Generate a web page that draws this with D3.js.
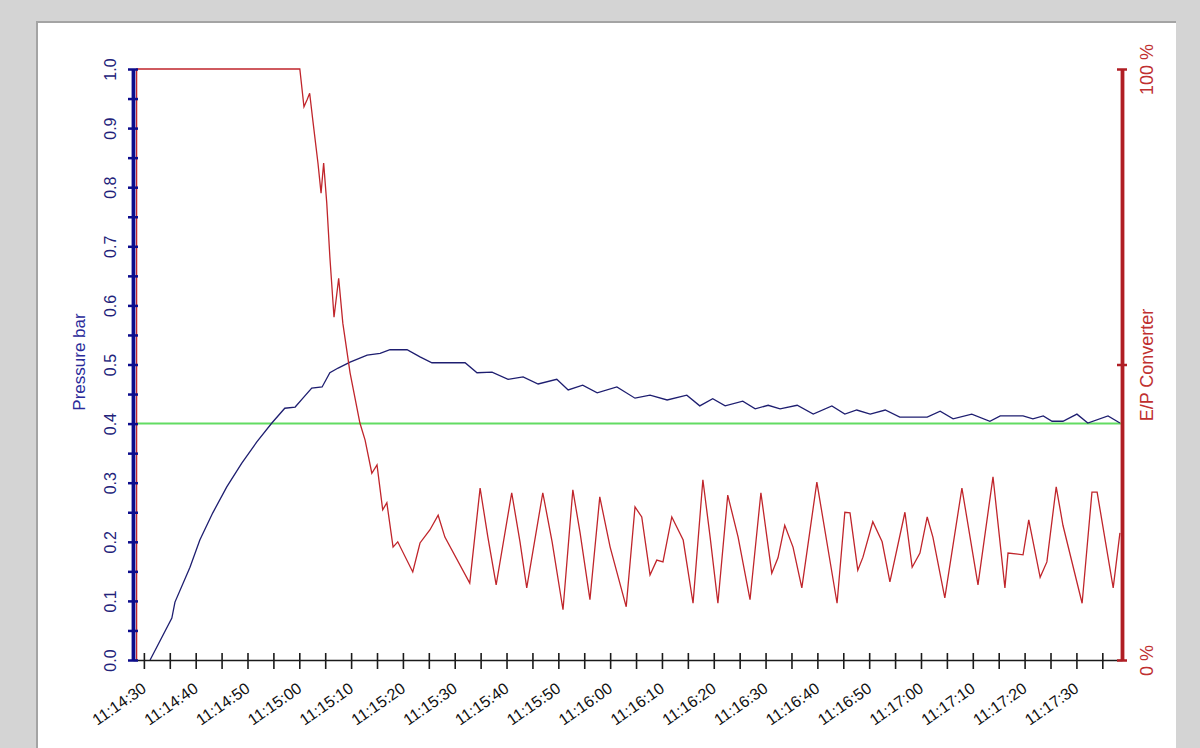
<!DOCTYPE html>
<html>
<head>
<meta charset="utf-8">
<script src="https://cdn.jsdelivr.net/npm/d3@7"></script>
<style>
  body { margin: 0; background: #d4d4d4; }
  svg { display: block; }
  text { font-family: "Liberation Sans", Arial, sans-serif; }
</style>
</head>
<body>
<svg id="chart" width="1200" height="748"></svg>
<script>
// seconds after 11:14:30
var epTime = [-1.4, -1.4, 30.1, 30.9, 31.5, 32.0, 32.6, 33.6, 34.2, 34.7, 35.3, 35.9, 36.7, 37.6, 38.4, 39.8,
  41.7, 42.7, 44.0, 45.0, 46.1, 46.9, 48.1, 49.0, 51.9, 53.3, 55.2, 56.8, 58.1, 62.9, 64.9, 66.4, 68.0,
  71.0, 72.6, 73.9, 77.0, 78.8, 80.9, 82.8, 84.2, 86.1, 88.0, 90.0, 93.1, 94.8, 96.1, 97.7, 99.0, 100.2,
  101.9, 104.1, 106.0, 107.9, 109.3, 110.8, 112.7, 114.7, 117.0, 119.1, 121.2, 122.4, 123.7, 125.3, 127.0,
  129.9, 133.8, 135.3, 136.3, 137.8, 138.8, 140.7, 142.5, 144.0, 146.9, 148.3, 149.8, 151.2, 152.3, 154.6,
  157.9, 161.0, 163.9, 166.2, 166.8, 169.7, 170.8, 173.0, 174.3, 176.1, 177.4, 181.1, 183.0, 184.0, 187.1, 188.4];
// E/P converter, percent
var epValue = [0, 100, 100, 93.6, 94.8, 95.9, 91.4, 84.1, 79.0, 84.1, 77.3, 68.2, 58.0, 64.6, 57.0, 48.6,
  40.1, 37.2, 31.6, 33.0, 25.4, 26.6, 19.1, 20.0, 14.9, 19.8, 22.0, 24.5, 20.8, 13.0, 29.1, 20.8, 12.7,
  28.3, 20.0, 12.2, 28.3, 20.0, 8.5, 28.8, 21.5, 10.2, 27.6, 19.1, 9.0, 25.9, 24.2, 14.4, 16.9, 16.6,
  24.2, 20.3, 9.6, 30.5, 20.8, 9.6, 27.9, 20.8, 10.2, 28.3, 14.7, 17.3, 22.8, 19.1, 12.2,
  30.1, 9.6, 25.0, 24.9, 15.2, 17.4, 23.4, 20.0, 13.2, 25.0, 15.7, 18.1, 24.2, 20.8, 10.5,
  29.1, 12.7, 31.0, 12.2, 18.1, 17.8, 23.7, 14.0, 16.6, 29.3, 22.8, 9.6, 28.4, 28.4, 12.2, 21.5];

var pressTime = [1.2, 5.4, 6.0, 8.9, 10.8, 13.3, 16.0, 18.9, 21.8, 24.7, 27.2, 29.2, 30.7, 32.4, 34.4, 35.9,
  37.5, 39.8, 43.1, 45.6, 47.5, 50.8, 53.3, 55.6, 62.0, 64.3, 67.2, 70.3, 73.2, 76.1, 79.7, 81.9, 84.7,
  87.5, 91.3, 94.8, 97.7, 101.0, 104.8, 107.3, 109.8, 112.2, 115.6, 118.0, 120.5, 122.8, 126.1, 129.2,
  132.8, 135.3, 137.6, 140.2, 143.1, 145.9, 151.2, 153.7, 156.2, 159.8, 163.3, 165.3, 169.7, 171.6,
  173.6, 175.3, 177.4, 180.1, 182.2, 186.1, 188.4];
// pressure, bar
var pressValue = [0, 0.071, 0.098, 0.157, 0.203, 0.249, 0.293, 0.333, 0.369, 0.401, 0.426, 0.428, 0.443,
  0.460, 0.462, 0.486, 0.494, 0.504, 0.516, 0.519, 0.525, 0.525, 0.513, 0.503, 0.503, 0.486, 0.487,
  0.475, 0.479, 0.467, 0.475, 0.457, 0.465, 0.452, 0.462, 0.443, 0.448, 0.440, 0.448, 0.430, 0.442,
  0.430, 0.438, 0.425, 0.431, 0.425, 0.431, 0.416, 0.430, 0.416, 0.423, 0.416, 0.423, 0.411, 0.411,
  0.421, 0.408, 0.416, 0.404, 0.413, 0.413, 0.408, 0.413, 0.404, 0.404, 0.416, 0.401, 0.413, 0.401];

var setpoint = 0.4;
var timeDomain = [-2.1, 188.8];
var pressTicks = d3.range(0, 21).map(function(i) { return i * 0.05; });
var epTicks = [0, 50, 100];

var t0 = new Date(2000, 0, 1, 11, 14, 30);
function toDate(s) { return new Date(t0.getTime() + s * 1000); }

var svg = d3.select("#chart");

// panel
svg.append("rect").attr("x", 37).attr("y", 22).attr("width", 1139).attr("height", 740).attr("fill", "#ffffff");
svg.append("path").attr("d", "M37,748V22H1176").attr("fill", "none").attr("stroke", "#a4a4a4").attr("stroke-width", 2);

var x = d3.scaleTime()
  .domain(timeDomain.map(toDate))
  .range([133, 1122]);

var yP = d3.scaleLinear()
  .domain([0, 1])
  .range([660, 69]);

var yE = d3.scaleLinear()
  .domain([0, 100])
  .range([660, 69]);

// setpoint
svg.append("line")
  .attr("x1", x(toDate(-1.4))).attr("x2", x.range()[1])
  .attr("y1", yP(setpoint)).attr("y2", yP(setpoint))
  .attr("stroke", "#62dc62").attr("stroke-width", 2);

var epLine = d3.line()
  .x(function(d, i) { return x(toDate(epTime[i])); })
  .y(function(d) { return yE(d); });

var pressLine = d3.line()
  .x(function(d, i) { return x(toDate(pressTime[i])); })
  .y(function(d) { return yP(d); });

svg.append("path")
  .attr("d", pressLine(pressValue))
  .attr("fill", "none").attr("stroke", "#1e1e70").attr("stroke-width", 1.3);

svg.append("path")
  .attr("d", epLine(epValue))
  .attr("fill", "none").attr("stroke", "#c0252b").attr("stroke-width", 1.3);

// x axis
var xAxis = svg.append("g")
  .attr("transform", "translate(0,660)")
  .call(d3.axisBottom(x)
    .ticks(d3.timeSecond.every(5))
    .tickSize(8)
    .tickSizeOuter(0)
    .tickFormat(function(d) { return d.getSeconds() % 10 == 0 ? d3.timeFormat("%H:%M:%S")(d) : ""; }));
xAxis.select(".domain").attr("stroke", "#1a1a1a").attr("stroke-width", 1.6);
xAxis.selectAll(".tick").filter(function(d) { return x(d) < 140 || x(d) > 1110; }).remove();
xAxis.selectAll(".tick line").attr("y1", -7).attr("y2", 9).attr("stroke", "#1a1a1a").attr("stroke-width", 1.6);
xAxis.selectAll(".tick text")
  .attr("y", 0).attr("dy", 0)
  .attr("transform", "translate(3,31) rotate(-35)")
  .attr("text-anchor", "end")
  .attr("font-size", 16)
  .attr("fill", "#111");

// left axis
var lAxis = svg.append("g")
  .attr("transform", "translate(133,0)")
  .call(d3.axisLeft(yP)
    .tickValues(pressTicks)
    .tickSize(4)
    .tickSizeOuter(0)
    .tickFormat(function(d) { return Math.round(d * 100) % 10 == 0 ? d3.format(".1f")(d) : ""; }));
lAxis.select(".domain").attr("stroke", "#0c0c8c").attr("stroke-width", 3.8);
lAxis.selectAll(".tick line").attr("x1", -5).attr("x2", 5).attr("stroke", "#0c0c8c").attr("stroke-width", 2.5);
lAxis.selectAll(".tick text")
  .attr("x", 0).attr("dy", 0)
  .attr("transform", "translate(-17,0) rotate(-90)")
  .attr("text-anchor", "middle")
  .attr("font-size", 16)
  .attr("fill", "#22227a");

svg.append("text")
  .attr("transform", "translate(85,362) rotate(-90)")
  .attr("text-anchor", "middle")
  .attr("font-size", 17)
  .attr("fill", "#2a2a9a")
  .text("Pressure bar");

// right axis
var rAxis = svg.append("g")
  .attr("transform", "translate(1122,0)")
  .call(d3.axisRight(yE)
    .tickValues(epTicks)
    .tickSize(5)
    .tickSizeOuter(0)
    .tickFormat(function(d) { return d == 50 ? "" : d + " %"; }));
rAxis.select(".domain").attr("stroke", "#b01e24").attr("stroke-width", 3.8);
rAxis.selectAll(".tick line").attr("x1", -5).attr("x2", 5).attr("stroke", "#b01e24").attr("stroke-width", 2.5);
rAxis.selectAll(".tick text")
  .attr("x", 0).attr("dy", 0)
  .attr("transform", "translate(31,0) rotate(-90)")
  .attr("text-anchor", "middle")
  .attr("font-size", 18)
  .attr("fill", "#c03030");

svg.append("text")
  .attr("transform", "translate(1153,365) rotate(-90)")
  .attr("text-anchor", "middle")
  .attr("font-size", 18)
  .attr("fill", "#c03030")
  .text("E/P Converter");
</script>
</body>
</html>
